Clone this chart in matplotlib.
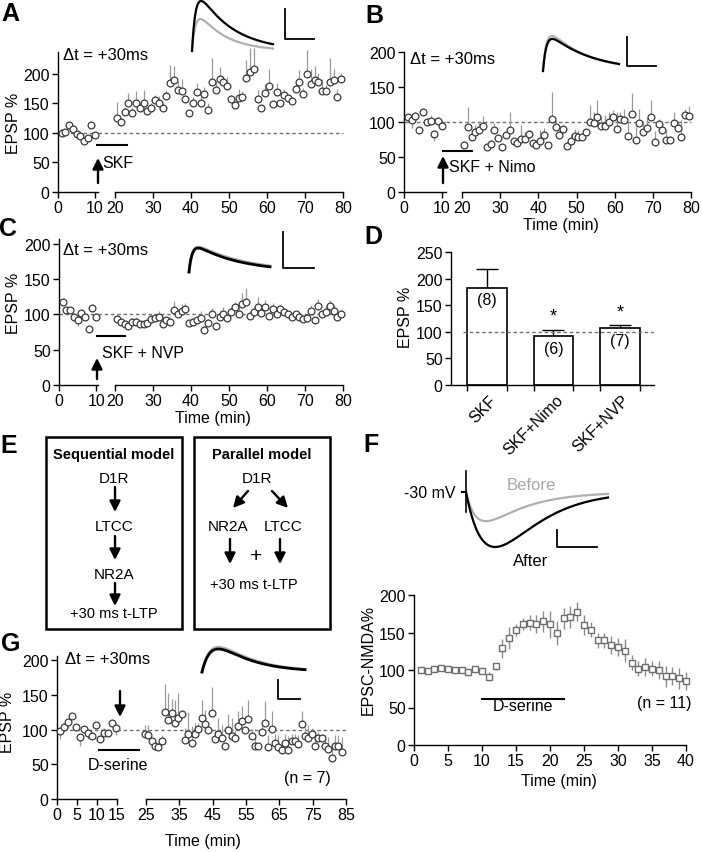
import numpy as np
import matplotlib
matplotlib.use("Agg")
import matplotlib.pyplot as plt
import matplotlib.transforms as mtransforms
from matplotlib.patches import Rectangle

plt.rcParams['font.family'] = ['Liberation Sans', 'DejaVu Sans']
plt.rcParams['font.size'] = 11.5
plt.rcParams['axes.linewidth'] = 1.0

# ---- data ----
# A: SKF
a_base_t = np.arange(1, 11)
a_base = [100, 101, 113, 106, 98, 94, 86, 91, 113, 97]
a_base_err = [3, 4, 5, 4, 5, 6, 4, 6, 6, 5]
a_post_t = np.arange(20.5, 80, 1.0)
a_post = [125, 119, 136, 150, 134, 151, 143, 151, 137, 142, 155, 150, 143, 162, 185, 189, 173, 171, 157, 133,
          150, 170, 151, 166, 138, 187, 173, 191, 187, 179, 157, 147, 159, 161, 193, 203, 209, 157, 143, 167,
          179, 149, 170, 150, 165, 159, 154, 174, 186, 166, 200, 183, 189, 186, 171, 171, 187, 189, 160, 191]
a_post_err = [28, 0, 8, 18, 10, 20, 8, 22, 6, 8, 10, 12, 8, 10, 30, 25, 15, 20, 8, 0,
              10, 15, 15, 12, 12, 40, 15, 20, 10, 15, 8, 5, 15, 10, 30, 40, 35, 15, 5, 15,
              30, 5, 15, 5, 10, 5, 5, 10, 20, 10, 40, 25, 25, 15, 20, 10, 40, 20, 15, 10]

# B: SKF + Nimo
b_base_t = np.arange(1, 11)
b_base = [107, 103, 109, 88, 115, 100, 102, 83, 102, 95]
b_base_err = [-8, -12, 5, 0, 0, 5, 8, -10, 5, 8]
b_post_t = np.arange(20.5, 80, 1.0)
b_post = [67, 93, 78, 86, 89, 94, 64, 69, 88, 77, 64, 81, 89, 73, 70, 76, 76, 83, 70, 67,
          73, 81, 67, 105, 93, 81, 90, 66, 73, 80, 79, 79, 86, 100, 99, 107, 94, 95, 100, 107,
          90, 105, 103, 80, 112, 74, 99, 86, 92, 107, 72, 97, 89, 74, 75, 99, 92, 78, 110, 108]
b_post_err = [0, 28, 0, 10, 12, 15, 0, 5, 10, 0, 0, 0, 25, 0, 5, 20, 10, 5, 0, 8,
              15, 10, 0, 38, 10, 0, 0, 5, 10, 10, 10, 5, 0, 25, 15, 25, 15, 15, 15, 10,
              25, 10, 15, 20, 30, 20, 20, 15, 15, 25, 15, 8, 10, 15, 5, 15, 10, 25, 8, 15]

# C: SKF + NVP
c_base_t = np.arange(1, 11)
c_base = [118, 107, 107, 97, 92, 102, 97, 80, 109, 97]
c_base_err = [3, -4, -4, -6, -9, -5, -6, 0, 4, -5]
c_post_t = np.arange(20.5, 80, 1.0)
c_post = [94, 89, 87, 84, 90, 90, 86, 86, 88, 94, 95, 97, 86, 92, 90, 107, 100, 105, 108, 88,
          90, 92, 95, 78, 88, 101, 84, 97, 101, 95, 103, 110, 100, 115, 117, 98, 103, 110, 102, 110,
          98, 108, 100, 108, 103, 100, 96, 100, 97, 93, 95, 105, 92, 112, 100, 104, 112, 105, 96, 100]
c_post_err = [5, 5, 4, 3, 5, 6, 4, 5, 5, 6, 5, 8, 4, 5, 6, 12, 8, 10, 8, 4,
              5, 5, 10, 6, 5, 8, 4, 8, 10, 6, 8, 8, 10, 15, 20, 6, 8, 15, 8, 10,
              5, 8, 6, 5, 6, 5, 4, 5, 5, 5, 6, 8, 5, 10, 6, 10, 8, 8, 6, 6]

# D: summary bars
d_labels = ['SKF', 'SKF+Nimo', 'SKF+NVP']
d_mean = [183, 92, 107]
d_err = [35, 12, 5]
d_n = ['(8)', '(6)', '(7)']
d_sig = ['', '*', '*']

# F: NMDA EPSC
f_t = np.arange(1, 41)
f_v = [100, 99, 102, 103, 102, 100, 100, 98, 101, 99, 91, 105, 129, 143, 153, 161, 163, 161, 165, 161,
       150, 169, 171, 178, 160, 154, 140, 140, 133, 131, 126, 110, 102, 104, 102, 100, 92, 92, 89, 85]
f_err = [3, 3, 3, 3, 3, 3, 3, 3, 3, 3, 6, 5, 13, 15, 8, 8, 10, 12, 14, 18,
         16, 14, 15, 13, 13, 10, 10, 10, 12, 12, 15, 10, 10, 12, 10, 12, 14, 12, 14, 12]

# G: D-serine
g_base_t = np.arange(1, 16) - 0.2
g_base = [98, 104, 111, 120, 104, 90, 101, 95, 91, 107, 87, 95, 95, 110, 102]
g_base_err = [-11, 5, -8, 0, 0, -14, -6, -8, 0, -9, -5, 8, 0, 0, -10]
g_post_t = 24.7 + np.arange(60)
g_post = [94, 92, 84, 77, 75, 83, 125, 114, 124, 110, 117, 123, 85, 94,
          80, 94, 101, 116, 108, 100, 124, 86, 94, 88, 76, 99, 91, 88, 105, 113, 100, 115, 91, 76,
          76, 97, 109, 75, 101, 81, 75, 70, 81, 70, 83, 84, 79, 108, 91, 88, 94, 77, 88, 88,
          76, 72, 59, 76, 76, 68]
g_post_err = [13, 14, 0, 0, 0, 9, 41, 38, 20, 32, 36, 0, 17, 31,
              25, 15, 8, 27, 20, 0, 38, 15, 22, 18, 0, 24, 25, 12, 22, 21, 0, 28, 10, 15,
              0, 10, 32, 17, 26, 13, 17, 12, 13, 21, 11, 10, 13, 19, 13, 19, 9, 17, 8, 5,
              16, 17, 18, 16, 16, 21]

# example traces: (amplitude, rise tau, decay tau), normalised sweep time
trace_A = {'grey': (0.64, 0.045, 0.33), 'black': (1.0, 0.045, 0.42)}
trace_B = {'grey': (0.97, 0.045, 0.50), 'black': (0.89, 0.045, 0.55)}
trace_C = {'grey': (0.96, 0.04, 0.60), 'black': (0.92, 0.04, 0.55)}
trace_G = {'grey': (0.99, 0.09, 0.33), 'black': (0.92, 0.09, 0.32)}
trace_F = {'grey': (0.53, 0.08, 0.28), 'black': (1.0, 0.20, 0.21)}

W, H = 702, 853
fig = plt.figure(figsize=(W / 100, H / 100), dpi=100)

GREY = '#b0b0b0'
ECOL = '#9a9a9a'
DASH = '#707070'


def px_axes(x0, y0, x1, y1):
    ax = fig.add_axes([x0 / W, 1 - y1 / H, (x1 - x0) / W, (y1 - y0) / H])
    ax.set_facecolor('none')
    return ax


def style(ax, left=True):
    for s in ['top', 'right']:
        ax.spines[s].set_visible(False)
    ax.spines['left'].set_visible(left)
    ax.tick_params(direction='out', length=4, width=1.0, pad=2, labelsize=11.5)
    if not left:
        ax.tick_params(axis='y', left=False, labelleft=False)


def points(ax, t, v, e):
    e = np.asarray(e)
    lo = np.where(e < 0, -e, 0)
    hi = np.where(e > 0, e, 0)
    ax.errorbar(t, v, yerr=[lo, hi], fmt='none', ecolor=ECOL, elinewidth=0.9, capsize=0, clip_on=False)
    ax.plot(t, v, 'o', ms=4.9, mfc='white', mec='#3a3a3a', mew=0.9, clip_on=False, zorder=3)


def dashed(ax, gap=0.0):
    tr = ax.get_yaxis_transform()
    ax.plot([-gap, 1], [100, 100], transform=tr, color=DASH, lw=1.0, dashes=(2.5, 2), clip_on=False, zorder=1)


def broken_panel(box1, box2, xl1, xl2, ylim, xt1, xt2, base, post, yticks):
    ax1 = px_axes(*box1)
    ax2 = px_axes(*box2)
    for a, xl in ((ax1, xl1), (ax2, xl2)):
        a.set_xlim(*xl)
        a.set_ylim(*ylim)
    style(ax1)
    style(ax2, left=False)
    ax1.set_xticks(xt1)
    ax2.set_xticks(xt2)
    ax1.set_yticks(yticks)
    dashed(ax1)
    gap = (box2[0] - box1[2]) / (box2[2] - box2[0])
    dashed(ax2, gap)
    points(ax1, *base)
    points(ax2, *post)
    return ax1, ax2


def dexp(t, tr, td):
    v = np.exp(-t / td) - np.exp(-t / tr)
    return v / v.max()


def inset_trace(box, params, lw=1.6, sign=1):
    ax = px_axes(*box)
    ax.axis('off')
    t = np.linspace(0, 1, 400)
    if sign > 0:
        ax.set_ylim(0, 1)
    else:
        ax.set_ylim(-1, 0)
    ax.set_xlim(0, 1)
    for key, col in (('grey', GREY), ('black', 'k')):
        amp, tr, td = params[key]
        ax.plot(t, sign * amp * dexp(t, tr, td), color=col, lw=lw, clip_on=False)
    return ax


# ---- A ----
broken_panel((58, 53, 98, 193), (115, 53, 343, 193), (0, 10.8), (20, 80), (0, 237),
             [0, 10], np.arange(20, 81, 10),
             (a_base_t, a_base, a_base_err), (a_post_t, a_post, a_post_err), [0, 50, 100, 150, 200])
inset_trace((192, 2, 273, 52), trace_A)

# ---- B ----
broken_panel((404, 53, 446, 193), (462, 53, 691, 193), (0, 11.05), (20, 80), (0, 200),
             [0, 10], np.arange(20, 81, 10),
             (b_base_t, b_base, b_base_err), (b_post_t, b_post, b_post_err), [0, 50, 100, 150, 200])
inset_trace((543, 36, 619, 72), trace_B)

# ---- C ----
broken_panel((59, 240, 98, 386), (115, 240, 343, 386), (0, 10.5), (20, 80), (0, 207),
             [0, 10], np.arange(20, 81, 10),
             (c_base_t, c_base, c_base_err), (c_post_t, c_post, c_post_err), [0, 50, 100, 150, 200])
inset_trace((189, 247, 270, 273), trace_C, lw=2.0)

# ---- D ----
axD = px_axes(451, 253, 654, 386)
style(axD)
xd = np.arange(len(d_labels))
bw = 0.6
axD.bar(xd, d_mean, width=bw, color='white', edgecolor='k', lw=1.2, zorder=2)
axD.errorbar(xd, d_mean, yerr=[np.zeros(3), d_err], fmt='none', ecolor='k', elinewidth=1.0,
             capsize=8, capthick=1.0, zorder=1)
axD.set_xlim(-0.54, 2.51)
axD.set_ylim(0, 250)
axD.set_yticks([0, 50, 100, 150, 200, 250])
axD.set_xticks(xd)
axD.set_xticklabels(d_labels, rotation=45, ha='right', va='center', rotation_mode='anchor')
axD.tick_params(axis='x', which='major', length=0, pad=9)
shift = mtransforms.ScaledTranslation(7 / 100, 0, fig.dpi_scale_trans)
for lab in axD.get_xticklabels():
    lab.set_transform(lab.get_transform() + shift)
axD.set_xticks(np.concatenate([xd - bw / 2, xd + bw / 2]), minor=True)
axD.tick_params(axis='x', which='minor', direction='out', length=4, width=1.0)
axD.axhline(100, xmin=0.06, xmax=1.0, color=DASH, lw=1.0, dashes=(2.5, 2), zorder=3)
for i in range(3):
    axD.text(xd[i], d_mean[i] - 9, d_n[i], ha='center', va='top', fontsize=11.5, zorder=4)
    if d_sig[i]:
        axD.text(xd[i], d_mean[i] + d_err[i] + 9, d_sig[i], ha='center', va='bottom', fontsize=13)

# ---- F ----
axF = px_axes(414, 596, 686, 746)
style(axF)
axF.errorbar(f_t, f_v, yerr=f_err, fmt='s', ms=4.5, mfc='white', mec='#6e6e6e', mew=1.0,
             ecolor='#8a8a8a', elinewidth=1.0, capsize=0, clip_on=False)
axF.set_xlim(0, 40)
axF.set_ylim(0, 200)
axF.set_xticks(np.arange(0, 41, 5))
axF.set_yticks([0, 50, 100, 150, 200])
axF.plot([10, 22], [62, 62], color='k', lw=1.5)
axF.text(16, 52, 'D-serine', ha='center', va='center', fontsize=11.5)
axF.text(36.8, 57, '(n = 11)', ha='center', va='center', fontsize=11.5)
inset_trace((466, 493, 608, 548), trace_F, lw=1.6, sign=-1)

# ---- G ----
broken_panel((57, 657, 117, 800), (146, 657, 346, 800), (0, 15), (25, 85), (0, 206),
             [0, 5, 10, 15], np.arange(25, 86, 10),
             (g_base_t, g_base, g_base_err), (g_post_t, g_post, g_post_err), [0, 50, 100, 150, 200])
inset_trace((202, 648, 305, 673), trace_G, lw=2.0)

# ---- overlay: labels, scale bars, arrows, schemes ----
ov = fig.add_axes([0, 0, 1, 1])
ov.set_xlim(0, W)
ov.set_ylim(H, 0)
ov.axis('off')
ov.set_zorder(20)


def txt(x, y, s, **kw):
    kw.setdefault('ha', 'center')
    kw.setdefault('va', 'center')
    kw.setdefault('fontsize', 11.5)
    ov.text(x, y, s, **kw)


def arrow(x0, y0, x1, y1, ms=16, lw=1.7):
    ov.annotate('', xy=(x1, y1), xytext=(x0, y0),
                arrowprops=dict(arrowstyle='-|>', color='k', lw=lw, mutation_scale=ms,
                                shrinkA=0, shrinkB=0))


def line(xs, ys, **kw):
    kw.setdefault('color', 'k')
    kw.setdefault('lw', 1.5)
    ov.plot(xs, ys, **kw)


for lab, x, y in [('A', 10, 14), ('B', 374, 16), ('C', 8, 229), ('D', 373, 237),
                  ('E', 9, 446), ('F', 371, 445), ('G', 11, 644)]:
    txt(x, y, lab, fontsize=18, fontweight='bold')

for x, y in [(13, 123), (13, 303), (406, 317), (8, 722)]:
    txt(x, y, 'EPSP %', rotation=90, fontsize=11.5)
txt(368, 660, 'EPSC-NMDA%', rotation=90, fontsize=11.5)

for x, y in [(561, 225), (213, 418), (559, 782), (203, 842)]:
    txt(x, y, 'Time (min)')

for x, y in [(63, 55), (410, 59), (63, 250), (65, 659)]:
    txt(x, y, '\u0394t = +30ms', ha='left', fontsize=12)

# drug bars and arrows
line([97, 127], [146, 146])
txt(102, 163, 'SKF', ha='left')
arrow(98, 184, 98, 159)
line([443, 472], [152, 152])
txt(449, 167, 'SKF + Nimo', ha='left')
arrow(443, 184, 443, 157)
line([97, 125], [337, 337])
txt(102, 353, 'SKF + NVP', ha='left')
arrow(97, 380, 97, 359)
line([99, 139], [751, 751])
txt(118, 766, 'D-serine')
txt(307, 779, '(n = 7)')
arrow(120, 692, 120, 718)

# scale bars
for xv, y0, y1, x1 in [(285, 10, 40, 314), (627, 38, 67, 656), (283, 233, 269, 314),
                       (278, 681, 700, 300), (557, 531, 548, 597)]:
    line([xv, xv, x1], [y0, y1, y1], lw=1.3)

# F trace annotations
line([462, 466], [493, 493], lw=1.5)
line([466, 466], [472, 513], lw=1.2)
txt(455, 493, '-30 mV', ha='right')
txt(531, 486, 'Before', color='#a8a8a8', fontsize=12)
txt(531, 562, 'After', fontsize=12)

# E: model schemes
for x0, x1 in [(46, 182), (194, 330)]:
    ov.add_patch(Rectangle((x0, 438), x1 - x0, 192, fill=False, ec='k', lw=1.8))
fs = 10.5
txt(114, 455, 'Sequential model', fontsize=fs, fontweight='bold')
txt(114, 479, 'D1R', fontsize=11)
arrow(115, 488, 115, 513)
txt(114, 527, 'LTCC', fontsize=11)
arrow(115, 537, 115, 561)
txt(114, 575, 'NR2A', fontsize=11)
arrow(115, 584, 115, 607)
txt(114, 614, '+30 ms t-LTP', fontsize=fs)

txt(262, 455, 'Parallel model', fontsize=fs, fontweight='bold')
txt(257, 479, 'D1R', fontsize=11)
arrow(248, 492, 233, 509)
arrow(272, 492, 288, 509)
txt(228, 527, 'NR2A', fontsize=11)
txt(283, 527, 'LTCC', fontsize=11)
arrow(230, 540, 230, 565)
arrow(280, 540, 280, 565)
txt(256, 556, '+', fontsize=15)
txt(254, 585, '+30 ms t-LTP', fontsize=fs)

fig.savefig('out.png', dpi=100)
